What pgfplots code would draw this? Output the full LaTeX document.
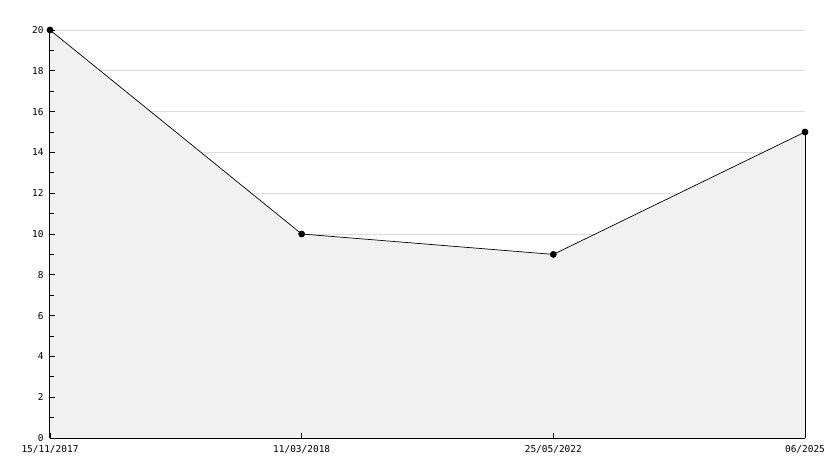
\documentclass[border=0pt]{standalone}
\usepackage{pgfplots}
\pgfplotsset{compat=1.18}
\usepackage{fontspec}
\setmainfont{DejaVu Sans Mono}
\definecolor{areafill}{HTML}{F1F1F1}
\definecolor{gridc}{HTML}{DDDDDD}
\begin{document}
\begin{tikzpicture}[x=1bp,y=1bp]
\path[use as bounding box] (-50bp,-30bp) rectangle (784bp,438bp);
\begin{axis}[
  axis on top,
  at={(0,0)}, anchor=south west,
  scale only axis, width=755bp, height=408bp,
  xmin=0, xmax=3, ymin=0, ymax=20,
  axis x line*=bottom, axis y line*=left,
  axis line style={-, line width=1bp},
  xtick={0,1,2,3},
  xticklabels={15/11/2017,11/03/2018,25/05/2022,06/2025},
  ytick={0,2,...,20},
  minor ytick={1,3,...,19},
  tick align=inside,
  major tick length=5bp, minor tick length=4bp,
  tick style={black, line width=0.8bp},
  tick label style={font=\fontsize{9.5}{10}\selectfont},
  /pgf/number format/assume math mode=true,
  xticklabel style={yshift=-4bp},
  yticklabel style={xshift=-3bp},
  clip=false,
]
\pgfplotsinvokeforeach{2,4,...,20}{
  \addplot[gridc, line width=0.8bp, forget plot] coordinates {(0,#1) (3,#1)};
}
\addplot[fill=areafill, draw=none] coordinates {(0,20) (1,10) (2,9) (3,15) (3,0) (0,0)} \closedcycle;
\addplot[black, line width=0.7bp, mark=*, mark size=3bp] coordinates {(0,20) (1,10) (2,9) (3,15)};
\addplot[black, line width=1bp] coordinates {(3,15) (3,0)};
\end{axis}
\end{tikzpicture}
\end{document}
